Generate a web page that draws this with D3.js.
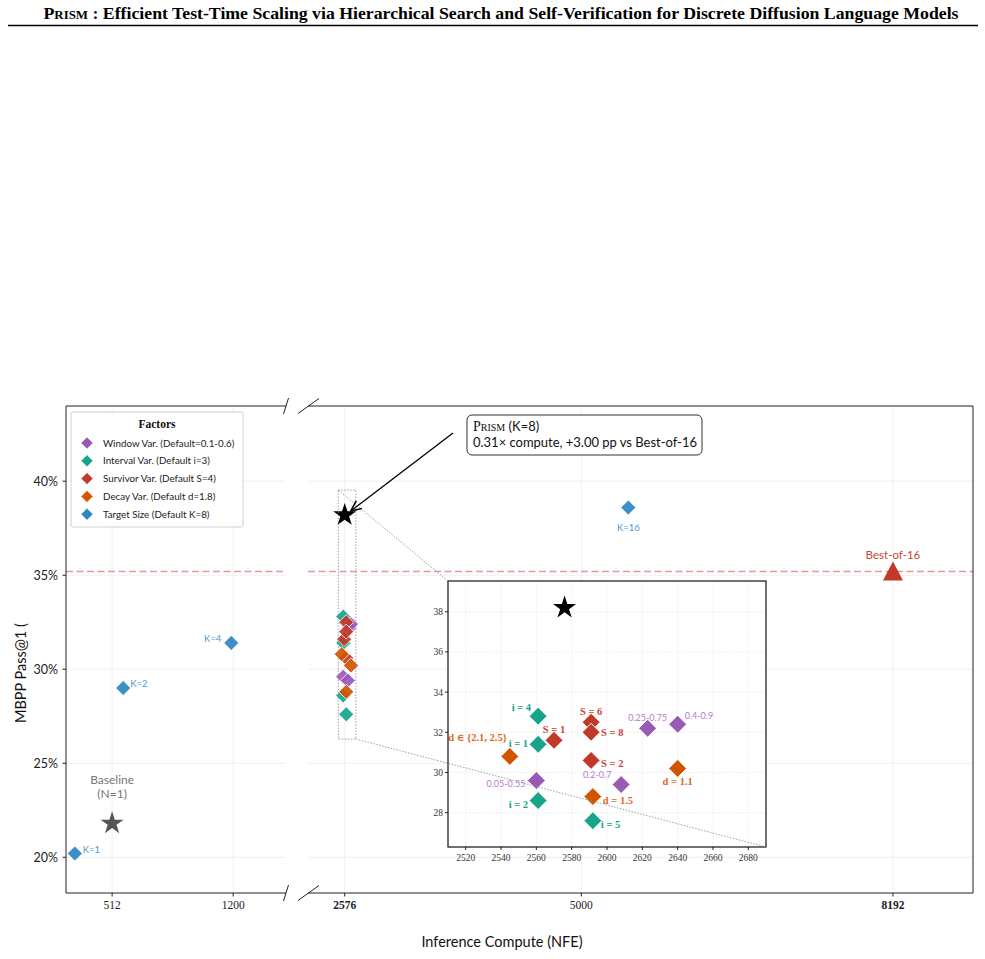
<!DOCTYPE html>
<html>
<head>
<meta charset="utf-8">
<script src="https://cdn.jsdelivr.net/npm/d3@7/dist/d3.min.js"></script>
<style>
  body { margin: 0; background: #fff; }
  svg { display: block; }
</style>
</head>
<body>
<svg id="chart" width="985" height="959"></svg>
<script>
// ---- data ----
const windowLabels = ["0.05-0.55", "0.2-0.7", "0.25-0.75", "0.4-0.9"]
const windowNfe = [2560, 2608, 2623, 2640]
const windowAcc = [29.6, 29.4, 32.2, 32.4]

const intervalLabels = ["i = 1", "i = 2", "i = 4", "i = 5"]
const intervalNfe = [2561, 2561, 2561, 2592]
const intervalAcc = [31.4, 28.6, 32.8, 27.6]

const survivorLabels = ["S = 1", "S = 2", "S = 6", "S = 8"]
const survivorNfe = [2570, 2591, 2591, 2591]
const survivorAcc = [31.6, 30.6, 32.5, 32.0]

const decayLabels = ["d \u2208 {2.1, 2.5}", "d = 1.5", "d = 1.1"]
const decayNfe = [2545, 2592, 2640]
const decayAcc = [30.8, 28.8, 30.2]

const targetLabels = ["K=1", "K=2", "K=4", "K=16"]
const targetNfe = [300, 575, 1189, 5481]
const targetAcc = [20.2, 29.0, 31.4, 38.6]

const prism = { nfe: 2576, acc: 38.2 }
const baseline = { nfe: 512, acc: 21.8 }
const bestOf16 = { nfe: 8192, acc: 35.2 }

const leftTicks = [512, 1200]
const rightTicks = [2576, 5000, 8192]
const boldTicks = [2576, 8192]
const yTicks = [20, 25, 30, 35, 40]
const insetXTicks = [2520, 2540, 2560, 2580, 2600, 2620, 2640, 2660, 2680]
const insetYTicks = [28, 30, 32, 34, 36, 38]

const legendNames = [
  "Window Var. (Default=0.1-0.6)",
  "Interval Var. (Default i=3)",
  "Survivor Var. (Default S=4)",
  "Decay Var. (Default d=1.8)",
  "Target Size (Default K=8)"
]

// ---- styling ----
const colors = {
  window: "#9b59b6", interval: "#17a589", survivor: "#c0392b",
  decay: "#d35400", target: "#2e86c1"
}
const labelColors = {
  window: "#b47ccb", interval: "#17a589", survivor: "#c9463a",
  decay: "#dd6a1f", target: "#4f98d0"
}
const SANS = "Lato, 'DejaVu Sans', sans-serif"
const SERIF = "'Liberation Serif', 'DejaVu Serif', serif"

const series = [
  { key: "window", labels: windowLabels, nfe: windowNfe, acc: windowAcc },
  { key: "interval", labels: intervalLabels, nfe: intervalNfe, acc: intervalAcc },
  { key: "survivor", labels: survivorLabels, nfe: survivorNfe, acc: survivorAcc },
  { key: "decay", labels: decayLabels, nfe: decayNfe, acc: decayAcc }
]
const rows = s => s.labels.map((l, i) => ({ key: s.key, label: l, nfe: s.nfe[i], acc: s.acc[i] }))
const clusterRows = series.flatMap(rows)
const targetRows = rows({ key: "target", labels: targetLabels, nfe: targetNfe, acc: targetAcc })

// label placement inside the inset (px offsets from the marker)
const insetLabelPos = {
  "i = 4": [-7, -5, "end"], "i = 1": [-10, 3, "end"], "i = 2": [-10, 7, "end"], "i = 5": [8, 7, "start"],
  "S = 6": [0, -7, "middle"], "S = 1": [0, -7, "middle"], "S = 8": [10, 4, "start"], "S = 2": [10, 7, "start"],
  "d \u2208 {2.1, 2.5}": [-3, -15, "end"], "d = 1.5": [10, 7, "start"], "d = 1.1": [0, 17, "middle"],
  "0.25-0.75": [0, -7, "middle"], "0.4-0.9": [7, -5, "start"], "0.2-0.7": [-24, -7, "middle"], "0.05-0.55": [-11, 6, "end"]
}
const targetLabelPos = {
  "K=1": [8, -1, "start"], "K=2": [7, -1, "start"], "K=4": [-10, -1, "end"], "K=16": [0, 23, "middle"]
}

// ---- layout ----
const plotTop = 406, plotBottom = 893
const xLeft = d3.scaleLinear().domain([250, 1500]).range([66, 286])
const xRight = d3.scaleLinear().domain([2200, 9012]).range([308, 973])
const y = d3.scaleLinear().domain([18.1, 44.0]).range([plotBottom, plotTop])
const inset = { x0: 448, x1: 766, y0: 581, y1: 847 }
const xIn = d3.scaleLinear().domain([2510, 2690]).range([inset.x0, inset.x1])
const yIn = d3.scaleLinear().domain([26.29, 39.53]).range([inset.y1, inset.y0])
const xOf = v => v < 2000 ? xLeft(v) : xRight(v)

const diamond = r => `M0,${-r}L${r},0L0,${r}L${-r},0Z`
const star = d3.symbol(d3.symbolStar, 165)()
const triangle = "M0,-11L10,8L-10,8Z"

const svg = d3.select("#chart")
svg.append("rect").attr("width", 985).attr("height", 959).attr("fill", "#fff")

// ---- page header ----
const header = svg.append("text")
  .attr("x", 501).attr("y", 19)
  .attr("text-anchor", "middle")
  .attr("font-family", SERIF).attr("font-weight", "bold").attr("font-size", 16.5)
  .attr("textLength", 915).attr("lengthAdjust", "spacingAndGlyphs")
header.append("tspan").style("font-variant", "small-caps").text("Prism")
header.append("tspan").text(" : Efficient Test-Time Scaling via Hierarchical Search and Self-Verification for Discrete Diffusion Language Models")
svg.append("line").attr("x1", 8).attr("x2", 978).attr("y1", 25.5).attr("y2", 25.5)
  .attr("stroke", "#000").attr("stroke-width", 1.6)

// ---- grids ----
const grid = svg.append("g").attr("stroke", "#ebebeb").attr("stroke-width", 0.8)
yTicks.forEach(t => {
  grid.append("line").attr("x1", 66).attr("x2", 286).attr("y1", y(t)).attr("y2", y(t))
  grid.append("line").attr("x1", 308).attr("x2", 973).attr("y1", y(t)).attr("y2", y(t))
})
leftTicks.forEach(t => grid.append("line").attr("x1", xLeft(t)).attr("x2", xLeft(t)).attr("y1", plotTop).attr("y2", plotBottom))
rightTicks.forEach(t => grid.append("line").attr("x1", xRight(t)).attr("x2", xRight(t)).attr("y1", plotTop).attr("y2", plotBottom))

// best-of-16 reference line across both panels
const refY = y(bestOf16.acc)
;[[66, 286], [308, 973]].forEach(([a, b]) => {
  svg.append("line").attr("x1", a).attr("x2", b).attr("y1", refY).attr("y2", refY)
    .attr("stroke", "#e39a92").attr("stroke-width", 1.5).attr("stroke-dasharray", "7,3.5")
})

// ---- axes ----
const axisG = svg.append("g").attr("fill", "none").attr("stroke", "#222").attr("stroke-width", 1)
axisG.append("line").attr("x1", 66).attr("x2", 66).attr("y1", plotTop).attr("y2", plotBottom)
axisG.append("line").attr("x1", 66).attr("x2", 286).attr("y1", plotTop).attr("y2", plotTop)
axisG.append("line").attr("x1", 66).attr("x2", 286).attr("y1", plotBottom).attr("y2", plotBottom)
axisG.append("line").attr("x1", 308).attr("x2", 973).attr("y1", plotTop).attr("y2", plotTop)
axisG.append("line").attr("x1", 308).attr("x2", 973).attr("y1", plotBottom).attr("y2", plotBottom)
axisG.append("line").attr("x1", 973).attr("x2", 973).attr("y1", plotTop).attr("y2", plotBottom)

// break marks
;[plotTop, plotBottom].forEach(yy => {
  axisG.append("line").attr("x1", 283.5).attr("y1", yy + 8).attr("x2", 288.5).attr("y2", yy - 8)
  axisG.append("line").attr("x1", 298).attr("y1", yy + 7.5).attr("x2", 319).attr("y2", yy - 7.5)
})

// y ticks
const yAxis = svg.append("g")
yTicks.forEach(t => {
  yAxis.append("line").attr("x1", 62.5).attr("x2", 66).attr("y1", y(t)).attr("y2", y(t)).attr("stroke", "#222")
  yAxis.append("text").attr("x", 58).attr("y", y(t) + 4.5).attr("text-anchor", "end")
    .attr("font-family", SANS).attr("font-size", 12.5).attr("fill", "#222").text(t + "%")
})
// x ticks
const xAxis = svg.append("g")
const xTick = (xx, t) => {
  xAxis.append("line").attr("x1", xx).attr("x2", xx).attr("y1", plotBottom).attr("y2", plotBottom + 3.5).attr("stroke", "#222")
  xAxis.append("text").attr("x", xx).attr("y", plotBottom + 15.5).attr("text-anchor", "middle")
    .attr("font-family", SERIF).attr("font-size", 11.5).attr("fill", "#222")
    .attr("font-weight", boldTicks.includes(t) ? "bold" : "normal").text(t)
}
leftTicks.forEach(t => xTick(xLeft(t), t))
rightTicks.forEach(t => xTick(xRight(t), t))

svg.append("text").attr("x", 502).attr("y", 947).attr("text-anchor", "middle")
  .attr("font-family", SANS).attr("font-size", 14.5).attr("fill", "#111").text("Inference Compute (NFE)")
svg.append("text").attr("transform", "translate(26,673) rotate(-90)").attr("text-anchor", "middle")
  .attr("font-family", SANS).attr("font-size", 14.5).attr("fill", "#111").text("MBPP Pass@1 (")

// ---- main markers ----
const marks = svg.append("g")
marks.selectAll("path.cluster").data(clusterRows).join("path")
  .attr("class", "cluster")
  .attr("d", diamond(7.5))
  .attr("transform", d => `translate(${xRight(d.nfe)},${y(d.acc)})`)
  .attr("fill", d => colors[d.key]).attr("fill-opacity", 0.92)
  .attr("stroke", "#fff").attr("stroke-width", 0.8)

marks.selectAll("path.target").data(targetRows).join("path")
  .attr("class", "target")
  .attr("d", diamond(7.5))
  .attr("transform", d => `translate(${xOf(d.nfe)},${y(d.acc)})`)
  .attr("fill", colors.target).attr("fill-opacity", 0.92)
  .attr("stroke", "#fff").attr("stroke-width", 0.8)

marks.selectAll("text.target").data(targetRows).join("text")
  .attr("class", "target")
  .attr("x", d => xOf(d.nfe) + targetLabelPos[d.label][0])
  .attr("y", d => y(d.acc) + targetLabelPos[d.label][1])
  .attr("text-anchor", d => targetLabelPos[d.label][2])
  .attr("font-family", SANS).attr("font-size", 9.5).attr("fill", labelColors.target)
  .text(d => d.label)

// baseline star
marks.append("path").attr("d", star)
  .attr("transform", `translate(${xLeft(baseline.nfe)},${y(baseline.acc)})`)
  .attr("fill", "#555")
const baseLbl = marks.append("text").attr("text-anchor", "middle")
  .attr("font-family", SANS).attr("font-size", 12).attr("fill", "#777")
baseLbl.append("tspan").attr("x", xLeft(baseline.nfe)).attr("y", y(baseline.acc) - 39).text("Baseline")
baseLbl.append("tspan").attr("x", xLeft(baseline.nfe)).attr("y", y(baseline.acc) - 25).text("(N=1)")

// best-of-16
marks.append("path").attr("d", triangle)
  .attr("transform", `translate(${xRight(bestOf16.nfe)},${y(bestOf16.acc) + 1})`)
  .attr("fill", "#c0392b")
marks.append("text").attr("x", xRight(bestOf16.nfe)).attr("y", y(bestOf16.acc) - 12)
  .attr("text-anchor", "middle").attr("font-family", SANS).attr("font-size", 11.5)
  .attr("fill", "#c9463a").text("Best-of-16")

// prism star
marks.append("path").attr("d", star)
  .attr("transform", `translate(${xRight(prism.nfe)},${y(prism.acc)})`)
  .attr("fill", "#000")

// ---- zoom rectangle + inset ----
const zx0 = xRight(xIn.domain()[0]), zx1 = xRight(xIn.domain()[1])
const zy0 = y(yIn.domain()[1]), zy1 = y(yIn.domain()[0])
svg.append("rect").attr("x", zx0).attr("y", zy0).attr("width", zx1 - zx0).attr("height", zy1 - zy0)
  .attr("fill", "none").attr("stroke", "#888").attr("stroke-width", 0.8).attr("stroke-dasharray", "1.5,1.5")

const ins = svg.append("g")
ins.append("rect").attr("x", inset.x0).attr("y", inset.y0)
  .attr("width", inset.x1 - inset.x0).attr("height", inset.y1 - inset.y0).attr("fill", "#fff")
const ig = ins.append("g").attr("stroke", "#e4e4e4").attr("stroke-width", 0.7).attr("stroke-dasharray", "1.5,1.5")
insetXTicks.forEach(t => ig.append("line").attr("x1", xIn(t)).attr("x2", xIn(t)).attr("y1", inset.y0).attr("y2", inset.y1))
insetYTicks.forEach(t => ig.append("line").attr("x1", inset.x0).attr("x2", inset.x1).attr("y1", yIn(t)).attr("y2", yIn(t)))

insetXTicks.forEach(t => {
  ins.append("line").attr("x1", xIn(t)).attr("x2", xIn(t)).attr("y1", inset.y1).attr("y2", inset.y1 + 3).attr("stroke", "#222")
  ins.append("text").attr("x", xIn(t)).attr("y", inset.y1 + 14).attr("text-anchor", "middle")
    .attr("font-family", SERIF).attr("font-size", 9.5).attr("fill", "#333").text(t)
})
insetYTicks.forEach(t => {
  ins.append("line").attr("x1", inset.x0 - 3).attr("x2", inset.x0).attr("y1", yIn(t)).attr("y2", yIn(t)).attr("stroke", "#222")
  ins.append("text").attr("x", inset.x0 - 5).attr("y", yIn(t) + 3.5).attr("text-anchor", "end")
    .attr("font-family", SERIF).attr("font-size", 9.5).attr("fill", "#333").text(t)
})

ins.selectAll("path.pt").data(clusterRows).join("path")
  .attr("class", "pt")
  .attr("d", diamond(9))
  .attr("transform", d => `translate(${xIn(d.nfe)},${yIn(d.acc)})`)
  .attr("fill", d => colors[d.key]).attr("stroke", "#fff").attr("stroke-width", 1)

ins.selectAll("text.pt").data(clusterRows).join("text")
  .attr("class", "pt")
  .attr("x", d => xIn(d.nfe) + insetLabelPos[d.label][0])
  .attr("y", d => yIn(d.acc) + insetLabelPos[d.label][1])
  .attr("text-anchor", d => insetLabelPos[d.label][2])
  .attr("font-family", d => d.key === "window" ? SANS : SERIF)
  .attr("font-weight", d => d.key === "window" ? "normal" : "bold")
  .attr("font-size", d => d.key === "window" ? 9 : 10.5)
  .attr("fill", d => labelColors[d.key])
  .text(d => d.label)

ins.append("path").attr("d", star)
  .attr("transform", `translate(${xIn(prism.nfe)},${yIn(prism.acc)})`)
  .attr("fill", "#000")

ins.append("rect").attr("x", inset.x0).attr("y", inset.y0)
  .attr("width", inset.x1 - inset.x0).attr("height", inset.y1 - inset.y0)
  .attr("fill", "none").attr("stroke", "#111").attr("stroke-width", 1.2)

// connector lines
const conn = svg.append("g").attr("stroke", "#888").attr("stroke-width", 0.8).attr("stroke-dasharray", "1.5,1.5")
conn.append("line").attr("x1", zx0).attr("y1", zy0).attr("x2", inset.x0).attr("y2", inset.y0)
conn.append("line").attr("x1", zx1).attr("y1", zy1).attr("x2", inset.x1).attr("y2", inset.y1)

// ---- callout ----
svg.append("defs").append("marker").attr("id", "arrow")
  .attr("viewBox", "0 0 10 10").attr("refX", 9).attr("refY", 5)
  .attr("markerWidth", 9).attr("markerHeight", 9).attr("orient", "auto")
  .append("path").attr("d", "M0,1L9,5L0,9").attr("fill", "none").attr("stroke", "#000").attr("stroke-width", 1.3)
svg.append("line").attr("x1", 453).attr("y1", 433).attr("x2", xRight(prism.nfe) + 6).attr("y2", y(prism.acc) - 4)
  .attr("stroke", "#000").attr("stroke-width", 1.3).attr("marker-end", "url(#arrow)")
svg.append("rect").attr("x", 467).attr("y", 415).attr("width", 235).attr("height", 40).attr("rx", 5)
  .attr("fill", "#fff").attr("stroke", "#333").attr("stroke-width", 1)
const c1 = svg.append("text").attr("x", 473).attr("y", 431).attr("font-size", 13).attr("fill", "#111")
c1.append("tspan").attr("font-family", SERIF).attr("font-size", 14).style("font-variant", "small-caps").text("Prism")
c1.append("tspan").attr("font-family", SANS).text(" (K=8)")
svg.append("text").attr("x", 473).attr("y", 447).attr("font-size", 13).attr("fill", "#111")
  .attr("font-family", SANS).attr("textLength", 224).attr("lengthAdjust", "spacing")
  .text("0.31\u00d7 compute, +3.00 pp vs Best-of-16")

// ---- legend ----
const lg = svg.append("g")
lg.append("rect").attr("x", 71).attr("y", 412).attr("width", 172).attr("height", 115).attr("rx", 2)
  .attr("fill", "#fff").attr("fill-opacity", 0.9).attr("stroke", "#d0d0d0")
lg.append("text").attr("x", 157).attr("y", 428).attr("text-anchor", "middle")
  .attr("font-family", SERIF).attr("font-weight", "bold").attr("font-size", 11.5).attr("fill", "#111").text("Factors")
const legendKeys = ["window", "interval", "survivor", "decay", "target"]
legendNames.forEach((name, i) => {
  const yy = 443 + i * 17.8
  lg.append("path").attr("d", diamond(6)).attr("transform", `translate(87,${yy})`)
    .attr("fill", colors[legendKeys[i]]).attr("stroke", "#fff").attr("stroke-width", 0.6)
  lg.append("text").attr("x", 103).attr("y", yy + 3.5).attr("font-family", SANS).attr("font-size", 9.8)
    .attr("fill", "#222").text(name)
})
</script>
</body>
</html>
